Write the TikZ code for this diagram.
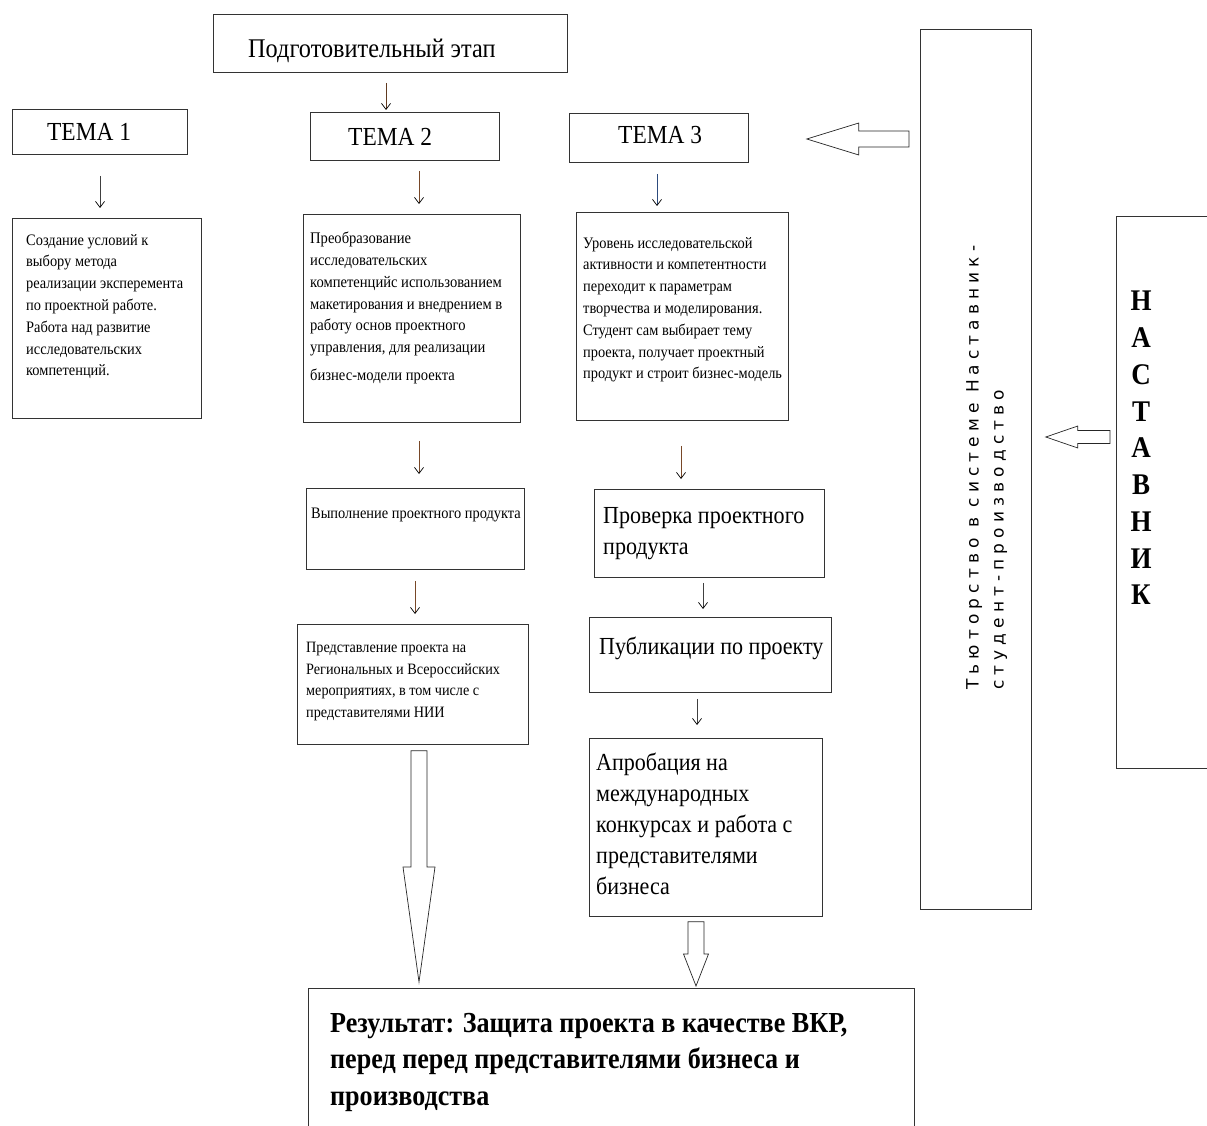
\documentclass[tikz,border=0pt]{standalone}
\usepackage{fontspec}
\setmainfont[FakeStretch=0.9]{Liberation Serif}
\newfontfamily\tutorfont[LetterSpace=30]{DejaVu Sans}
\usetikzlibrary{positioning,calc,arrows.meta}

\definecolor{shaftbrown}{RGB}{120,72,40}
\definecolor{shaftblue}{RGB}{45,75,125}

\tikzset{
  box/.style={draw=black!80, line width=0.8pt, rectangle, inner sep=0pt, anchor=north west},
  txt/.style={inner sep=0pt, anchor=north west, align=left},
  small/.style={txt, font=\fontsize{16}{21.8}\selectfont},
  large/.style={txt, font=\fontsize{24.5}{31}\selectfont},
  title/.style={inner sep=0pt, anchor=west},
  arr/.style={-{Straight Barb[length=6pt,width=9pt,color=black]}, line width=0.7pt, draw=black!75},
  fat/.style={draw=black!85, line width=0.7pt, fill=white, line join=miter},
}
% hollow block arrows: start, tip, shaft half width, head half width, head length
\newcommand{\fatdown}[5]{\draw[fat] ($(#1)+(-#3,0)$) -- ($(#2)+(-#3,-#5)$) -- ($(#2)+(-#4,-#5)$) -- (#2) -- ($(#2)+(#4,-#5)$) -- ($(#2)+(#3,-#5)$) -- ($(#1)+(#3,0)$) -- cycle;}
\newcommand{\fatleft}[5]{\draw[fat] ($(#1)+(0,-#3)$) -- ($(#2)+(#5,-#3)$) -- ($(#2)+(#5,-#4)$) -- (#2) -- ($(#2)+(#5,#4)$) -- ($(#2)+(#5,#3)$) -- ($(#1)+(0,#3)$) -- cycle;}

\begin{document}
\begin{tikzpicture}[x=1pt,y=1pt,yscale=-1]
\useasboundingbox (0,0) rectangle (1207,1126);

%Boxes
\node[box, minimum width=354, minimum height=58] (prep) at (213,14) {};
\node[box, minimum width=175, minimum height=45] (tema1) at (12,109) {};
\node[box, minimum width=189, minimum height=48] (tema2) at (310,112) {};
\node[box, minimum width=179, minimum height=49] (tema3) at (569,113) {};
\node[box, minimum width=189, minimum height=200] (cond) at (12,218) {};
\node[box, minimum width=217, minimum height=208] (trans) at (303,214) {};
\node[box, minimum width=212, minimum height=208] (level) at (576,212) {};
\node[box, minimum width=218, minimum height=81] (exec) at (306,488) {};
\node[box, minimum width=230, minimum height=88] (check) at (594,489) {};
\node[box, minimum width=231, minimum height=120] (pres) at (297,624) {};
\node[box, minimum width=242, minimum height=75] (publ) at (589,617) {};
\node[box, minimum width=233, minimum height=178] (appr) at (589,738) {};
\node[box, minimum width=606, minimum height=160] (result) at (308,988) {};
\node[box, minimum width=111, minimum height=880] (tutor) at (920,29) {};
\node[box, minimum width=120, minimum height=552] (mentor) at (1116,216) {};

%Titles
\node[title, font=\fontsize{27}{30}\selectfont] (preptxt) at (248,51) {Подготовительный этап};
\node[title, font=\fontsize{26}{28}\selectfont] (tema1txt) at (47,132) {ТЕМА 1};
\node[title, font=\fontsize{26}{28}\selectfont] (tema2txt) at (348,137) {ТЕМА 2};
\node[title, font=\fontsize{26}{28}\selectfont] (tema3txt) at (618,135) {ТЕМА 3};

%Texts
\node[small, below right=16pt and 14pt of cond.north west] (condtxt) {Создание условий к\\выбору метода\\реализации эксперемента\\по проектной работе.\\Работа над развитие\\исследовательских\\компетенций.};
\node[small, font=\fontsize{16.2}{21.8}\selectfont, below right=18pt and 7pt of trans.north west] (transtxt) {Преобразование\\исследовательских\\компетенцийс использованием\\макетирования и внедрением в\\работу основ проектного\\управления, для реализации\\[6pt]бизнес-модели проекта};
\node[small, below right=25pt and 7pt of level.north west] (leveltxt) {Уровень исследовательской\\активности и компетентности\\переходит к параметрам\\творчества и моделирования.\\Студент сам выбирает тему\\проекта, получает проектный\\продукт и строит бизнес-модель};
\node[txt, font=\fontsize{16}{20}\selectfont, below right=20pt and 5pt of exec.north west] (exectxt) {Выполнение проектного продукта};
\node[large, below right=18pt and 9pt of check.north west] (checktxt) {Проверка проектного\\продукта};
\node[small, font=\fontsize{15.8}{21.7}\selectfont, below right=18pt and 9pt of pres.north west] (prestxt) {Представление проекта на\\Региональных и Всероссийских\\мероприятиях, в том числе с\\представителями НИИ};
\node[large, below right=20pt and 10pt of publ.north west] (publtxt) {Публикации по проекту};
\node[large, below right=15pt and 7pt of appr.north west] (apprtxt) {Апробация на\\международных\\конкурсах и работа с\\представителями\\бизнеса};
\node[txt, font=\bfseries\fontsize{29}{36.5}\selectfont, below right=25pt and 22pt of result.north west] (resulttxt) {Результат: Защита проекта в качестве ВКР,\\перед перед представителями бизнеса и\\производства};
\node[txt, font=\tutorfont\fontsize{17}{25}\selectfont, rotate=90] (tutortxt) at (966,690) {Тьюторство в системе Наставник-\\студент-производство};
\node[inner sep=0pt, anchor=north, align=center, font=\bfseries\fontsize{30}{36.75}\selectfont] (mentortxt) at (1141,291) {Н\\А\\С\\Т\\А\\В\\Н\\И\\К};

%Thin arrows
\draw[arr, draw=shaftbrown!80!black, shorten <=10pt, shorten >=2pt] (prep.south -| 386,0) -- (tema2.north -| 386,0);
\draw[arr, shorten <=21pt, shorten >=10pt] (tema1.south -| 100,0) -- (cond.north -| 100,0);
\draw[arr, draw=shaftbrown, shorten <=10pt, shorten >=10pt] (tema2.south -| 419,0) -- (trans.north -| 419,0);
\draw[arr, draw=shaftblue, shorten <=11pt, shorten >=6pt] (tema3.south -| 657,0) -- (level.north -| 657,0);
\draw[arr, draw=shaftbrown, shorten <=18pt, shorten >=14pt] (trans.south -| 419,0) -- (exec.north -| 419,0);
\draw[arr, draw=shaftbrown, shorten <=25pt, shorten >=10pt] (level.south -| 681,0) -- (check.north -| 681,0);
\draw[arr, draw=shaftbrown, shorten <=11pt, shorten >=10pt] (exec.south -| 415,0) -- (pres.north -| 415,0);
\draw[arr, shorten <=5pt, shorten >=8pt] (check.south -| 703,0) -- (publ.north -| 703,0);
\draw[arr, shorten <=6pt, shorten >=13pt] (publ.south -| 697,0) -- (appr.north -| 697,0);

%Block arrows
\coordinate (presout) at ($(pres.south -| 419,0)+(0,6)$);
\coordinate (presin) at ($(result.north -| 419,0)+(0,-6)$);
\coordinate (approut) at ($(appr.south -| 696,0)+(0,5)$);
\coordinate (apprin) at ($(result.north -| 696,0)+(0,-2)$);
\coordinate (tutorout) at ($(tutor.west |- 0,139)+(-11,0)$);
\coordinate (tutorin) at ($(tema3.east |- 0,139)+(58,0)$);
\coordinate (mentorout) at ($(mentor.west |- 0,437)+(-6,0)$);
\coordinate (mentorin) at ($(tutor.east |- 0,437)+(14,0)$);
\fatdown{presout}{presin}{8}{16}{115}
\fatdown{approut}{apprin}{8}{12.5}{32}
\fatleft{tutorout}{tutorin}{8}{16}{52}
\fatleft{mentorout}{mentorin}{6.5}{11}{32}

\end{tikzpicture}
\end{document}
